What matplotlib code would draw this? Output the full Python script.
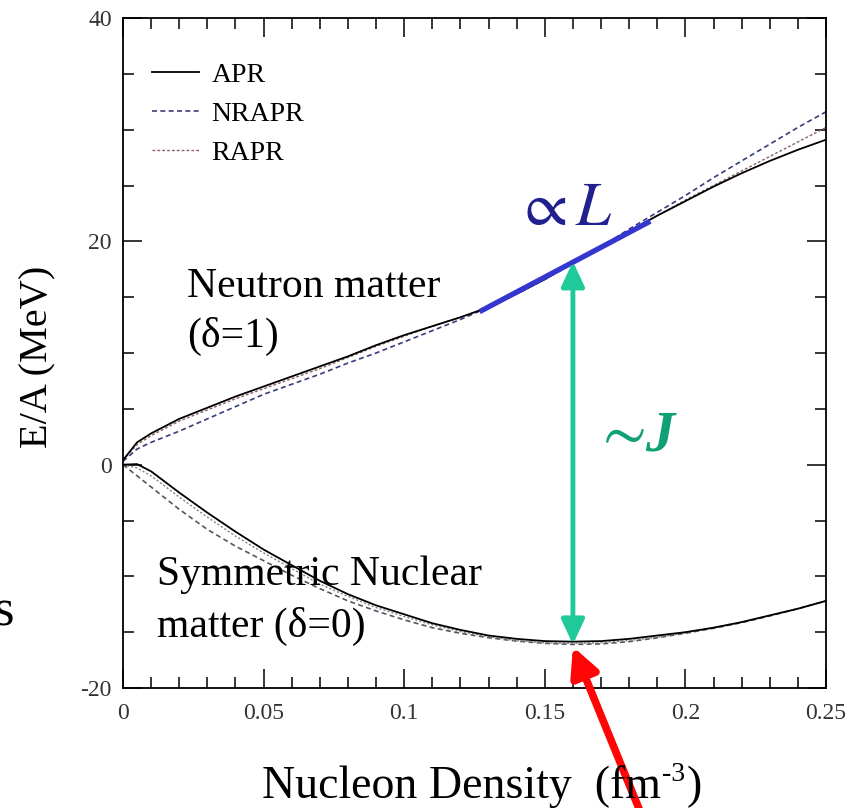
import matplotlib
matplotlib.use("Agg")
import matplotlib.pyplot as plt
import numpy as np

plt.rcParams['font.family'] = ['Liberation Serif', 'DejaVu Serif']
plt.rcParams['mathtext.fontset'] = 'stix'
plt.rcParams['axes.unicode_minus'] = False

# ---------------- data ----------------
density = [0.0, 0.005, 0.01, 0.02, 0.03, 0.04, 0.05, 0.06, 0.07, 0.08, 0.09,
           0.10, 0.11, 0.12, 0.13, 0.14, 0.15, 0.16, 0.17, 0.18, 0.19, 0.20,
           0.21, 0.22, 0.23, 0.24, 0.25]

# Neutron matter (delta = 1)
pnm_apr = [0.4, 2.0, 2.8, 4.1, 5.1, 6.1, 7.0, 7.9, 8.8, 9.7, 10.7,
           11.6, 12.4, 13.2, 14.1, 15.3, 16.6, 18.1, 19.5, 20.9, 22.3, 23.6,
           24.9, 26.1, 27.2, 28.2, 29.1]
pnm_nrapr = [0.3, 1.4, 2.0, 3.0, 4.1, 5.2, 6.3, 7.2, 8.1, 9.1, 10.0,
             11.0, 12.0, 13.0, 14.1, 15.3, 16.6, 18.0, 19.5, 21.1, 22.6, 24.1,
             25.7, 27.2, 28.7, 30.2, 31.6]
pnm_rapr = [0.4, 1.8, 2.6, 3.9, 4.9, 5.9, 6.8, 7.7, 8.6, 9.6, 10.6,
            11.5, 12.4, 13.2, 14.1, 15.3, 16.6, 18.0, 19.4, 20.9, 22.3, 23.7,
            25.0, 26.3, 27.6, 28.9, 30.2]

# Symmetric nuclear matter (delta = 0)
snm_apr = [0.0, 0.05, -0.6, -2.5, -4.3, -6.0, -7.6, -9.0, -10.4, -11.6, -12.6,
           -13.4, -14.2, -14.8, -15.3, -15.6, -15.8, -15.85, -15.8, -15.6, -15.3, -15.0,
           -14.6, -14.1, -13.5, -12.9, -12.2]
snm_nrapr = [0.0, -1.0, -2.0, -4.0, -5.8, -7.3, -8.6, -9.9, -11.1, -12.2, -13.1,
             -13.9, -14.6, -15.1, -15.5, -15.8, -16.0, -16.1, -16.05, -15.85, -15.5, -15.1,
             -14.65, -14.15, -13.55, -12.9, -12.2]
snm_rapr = [0.0, -0.3, -1.0, -2.9, -4.7, -6.4, -7.9, -9.3, -10.7, -11.8, -12.8,
            -13.6, -14.35, -14.95, -15.4, -15.75, -15.95, -16.0, -15.95, -15.75, -15.45, -15.05,
            -14.6, -14.1, -13.5, -12.9, -12.2]

legend_labels = ["APR", "NRAPR", "RAPR"]
x_ticks = [0, 0.05, 0.1, 0.15, 0.2, 0.25]
x_ticklabels = ["0", "0.05", "0.1", "0.15", "0.2", "0.25"]
y_ticks = [-20, 0, 20, 40]

# slope (L) segment and J arrow
L_segment_x = [0.1268, 0.1875]
L_segment_y = [13.7, 21.8]
J_x = 0.16
J_top = 18.2
J_bottom = -16.1
sat_density = 0.16
sat_energy = -16.3

# ---------------- figure ----------------
W, H = 863, 808
fig = plt.figure(figsize=(W / 100, H / 100), dpi=100)
ax = fig.add_axes([123 / W, 1 - 688 / H, (826 - 123) / W, (688 - 18) / H])

ax.plot(density, pnm_apr, color='black', lw=1.3, label=legend_labels[0], zorder=3)
ax.plot(density, pnm_nrapr, color='#3b3b7a', lw=1.2, ls=(0, (3, 2)), label=legend_labels[1], zorder=2)
ax.plot(density, pnm_rapr, color='#8a5f6a', lw=1.0, ls=(0, (2, 1.5)), label=legend_labels[2], zorder=2)
ax.plot(density, snm_apr, color='black', lw=1.3, zorder=3)
ax.plot(density, snm_nrapr, color='#555566', lw=1.2, ls=(0, (3, 2)), zorder=2)
ax.plot(density, snm_rapr, color='#8a7f80', lw=1.0, ls=(0, (1.5, 1.5)), zorder=2)

ax.set_xlim(0, 0.25)
ax.set_ylim(-20, 40)
ax.set_xticks(x_ticks)
ax.set_xticklabels(x_ticklabels)
ax.set_yticks(y_ticks)
ax.set_xticks(np.arange(0, 0.2501, 0.01), minor=True)
ax.set_yticks(np.arange(-20, 40.1, 5), minor=True)
ax.tick_params(which='major', direction='in', length=14, width=1.1, top=True, right=True,
               labelsize=17, labelcolor='#333333', pad=8)
ax.tick_params(which='minor', direction='in', length=8, width=1.1, top=True, right=True)
ax.tick_params(axis='x', which='major', pad=11)
for s in ax.spines.values():
    s.set_linewidth(1.3)

leg = ax.legend(loc='upper left', bbox_to_anchor=(0.025, 0.95), frameon=False,
                fontsize=20, handlelength=1.7, labelspacing=0.48, handletextpad=0.45,
                borderaxespad=0.0)

# L slope segment
ax.plot(L_segment_x, L_segment_y, color='#3535d0', lw=3.8, solid_capstyle='butt', zorder=5)

# J double arrow
ax.annotate('', xy=(J_x, J_top), xytext=(J_x, J_bottom),
            arrowprops=dict(arrowstyle='<|-|>,head_length=1.5,head_width=0.7',
                            color='#1fc999', lw=3.5, shrinkA=0, shrinkB=0), zorder=6)

# red arrow pointing to saturation point
ax.annotate('', xy=(sat_density, sat_energy), xycoords='data',
            xytext=(642 / W, -0.01), textcoords='figure fraction',
            arrowprops=dict(arrowstyle='-|>,head_length=1.7,head_width=0.85',
                            color='#ff0505', lw=5.5, shrinkA=0, shrinkB=0),
            annotation_clip=False, zorder=7)

# text annotations (figure pixel positions, measured from top)
def ftext(x, y, s, **kw):
    return fig.text(x / W, 1 - y / H, s, **kw)

ftext(187, 297, "Neutron matter", fontsize=30, va='baseline', ha='left')
ftext(187, 347, "(δ=1)", fontsize=30, va='baseline', ha='left')
ftext(157, 585, "Symmetric Nuclear", fontsize=30, va='baseline', ha='left')
ftext(157, 637, "matter (δ=0)", fontsize=30, va='baseline', ha='left')
ftext(-6, 625, "s", fontsize=38, va='baseline', ha='left')

ftext(564, 225, r"$\propto L$", fontsize=45, color='#20208f', va='baseline', ha='center')
ftext(619, 450, r"$\sim$", fontsize=46, color='#10a075', va='baseline', ha='center')
ftext(660, 450, "J", fontsize=42, color='#10a075', va='baseline', ha='center',
      fontweight='bold', fontstyle='italic')

ftext(38, 357, "E/A (MeV)", fontsize=29, rotation=90, va='center', ha='center')

# x label assembled from three pieces so the superscript uses a hyphen
fig.canvas.draw()
r = fig.canvas.get_renderer()
t1 = ftext(262, 798, "Nucleon Density  (fm", fontsize=33, va='baseline', ha='left')
x1 = t1.get_window_extent(r).x1
t2 = fig.text(x1 / W + 0.001, 1 - 781 / H, "-3", fontsize=20, va='baseline', ha='left')
x2 = t2.get_window_extent(r).x1
t3 = fig.text(x2 / W + 0.002, 1 - 798 / H, ")", fontsize=33, va='baseline', ha='left')

fig.savefig("out.png", dpi=100, facecolor='white')
